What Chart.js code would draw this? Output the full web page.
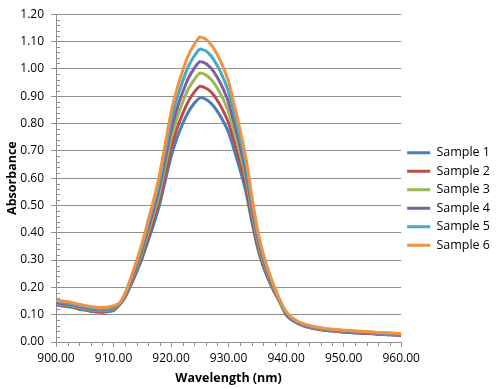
<!DOCTYPE html>
<html>
<head>
<meta charset="utf-8">
<script src="https://cdn.jsdelivr.net/npm/chart.js@4/dist/chart.umd.min.js"></script>
<style>
  body { margin: 0; background: #fff; }
  canvas { display: block; }
</style>
</head>
<body>
<canvas id="spectra" width="500" height="389"></canvas>
<script>
var wavelengths = [900, 901, 902, 903, 904, 905, 906, 907, 908, 909,
    910, 911, 912, 913, 914, 915, 916, 917, 918, 919,
    920, 921, 922, 923, 924, 925, 926, 927, 928, 929,
    930, 931, 932, 933, 934, 935, 936, 937, 938, 939,
    940, 941, 942, 943, 944, 945, 946, 947, 948, 949,
    950, 951, 952, 953, 954, 955, 956, 957, 958, 959, 960];

var sampleNames = ['Sample 1', 'Sample 2', 'Sample 3', 'Sample 4', 'Sample 5', 'Sample 6'];
var sampleColors = ['#4A7EBB', '#BE4B48', '#98B954', '#7D60A0', '#46AAC5', '#F39243'];

var sample1 = [0.136, 0.133, 0.129, 0.126, 0.120, 0.117, 0.112, 0.110, 0.108, 0.111, 0.115,
    0.135, 0.163, 0.207, 0.256, 0.308, 0.370, 0.432, 0.502, 0.591, 0.679, 0.745, 0.798, 0.842, 0.873,
    0.894, 0.889, 0.873, 0.846, 0.811, 0.767, 0.701, 0.630, 0.551, 0.445, 0.348, 0.278, 0.225, 0.181, 0.141,
    0.099, 0.080, 0.068, 0.059, 0.053, 0.048, 0.045, 0.042, 0.040, 0.038, 0.036,
    0.035, 0.033, 0.032, 0.031, 0.030, 0.028, 0.027, 0.026, 0.025, 0.024];
var sample2 = [0.139, 0.135, 0.132, 0.128, 0.123, 0.120, 0.115, 0.112, 0.111, 0.113, 0.118,
    0.136, 0.166, 0.212, 0.263, 0.319, 0.384, 0.449, 0.523, 0.616, 0.709, 0.779, 0.835, 0.881, 0.914,
    0.936, 0.930, 0.914, 0.886, 0.849, 0.802, 0.732, 0.658, 0.575, 0.463, 0.361, 0.287, 0.231, 0.184, 0.143,
    0.101, 0.082, 0.069, 0.060, 0.054, 0.049, 0.046, 0.043, 0.041, 0.039, 0.037,
    0.036, 0.034, 0.033, 0.032, 0.031, 0.029, 0.028, 0.027, 0.026, 0.025];
var sample3 = [0.142, 0.138, 0.135, 0.131, 0.126, 0.122, 0.118, 0.115, 0.114, 0.116, 0.121,
    0.138, 0.169, 0.218, 0.272, 0.331, 0.400, 0.469, 0.547, 0.646, 0.744, 0.818, 0.877, 0.926, 0.960,
    0.984, 0.978, 0.960, 0.931, 0.892, 0.842, 0.769, 0.690, 0.602, 0.484, 0.375, 0.297, 0.238, 0.189, 0.144,
    0.104, 0.084, 0.071, 0.062, 0.056, 0.051, 0.048, 0.045, 0.043, 0.041, 0.039,
    0.038, 0.036, 0.035, 0.034, 0.033, 0.031, 0.030, 0.029, 0.028, 0.027];
var sample4 = [0.145, 0.141, 0.138, 0.134, 0.129, 0.125, 0.121, 0.118, 0.117, 0.119, 0.124,
    0.139, 0.172, 0.223, 0.280, 0.342, 0.414, 0.486, 0.568, 0.671, 0.774, 0.852, 0.913, 0.965, 1.001,
    1.026, 1.020, 1.001, 0.970, 0.929, 0.877, 0.800, 0.718, 0.625, 0.501, 0.388, 0.306, 0.244, 0.192, 0.146,
    0.105, 0.085, 0.072, 0.063, 0.057, 0.052, 0.049, 0.046, 0.044, 0.042, 0.040,
    0.039, 0.037, 0.036, 0.035, 0.034, 0.032, 0.031, 0.030, 0.029, 0.028];
var sample5 = [0.149, 0.146, 0.142, 0.138, 0.133, 0.129, 0.125, 0.122, 0.121, 0.123, 0.128,
    0.140, 0.175, 0.229, 0.289, 0.353, 0.429, 0.505, 0.591, 0.700, 0.808, 0.889, 0.954, 1.008, 1.046,
    1.072, 1.066, 1.046, 1.013, 0.970, 0.916, 0.835, 0.748, 0.651, 0.521, 0.402, 0.316, 0.251, 0.197, 0.148,
    0.108, 0.087, 0.074, 0.065, 0.059, 0.054, 0.051, 0.048, 0.046, 0.044, 0.042,
    0.041, 0.039, 0.038, 0.037, 0.036, 0.034, 0.033, 0.032, 0.031, 0.030];
var sample6 = [0.154, 0.150, 0.148, 0.143, 0.138, 0.134, 0.130, 0.127, 0.126, 0.128, 0.133,
    0.142, 0.178, 0.234, 0.297, 0.364, 0.444, 0.523, 0.613, 0.726, 0.840, 0.924, 0.992, 1.049, 1.088,
    1.116, 1.109, 1.088, 1.054, 1.009, 0.953, 0.868, 0.777, 0.676, 0.540, 0.415, 0.325, 0.257, 0.200, 0.150,
    0.112, 0.090, 0.076, 0.067, 0.061, 0.056, 0.052, 0.049, 0.047, 0.045, 0.043,
    0.042, 0.040, 0.039, 0.038, 0.037, 0.035, 0.034, 0.033, 0.032, 0.031];

var samples = [sample1, sample2, sample3, sample4, sample5, sample6];

// small ticks between the labelled ones, like the spreadsheet axes
var minorTicks = {
    id: 'minorTicks',
    afterDraw: function (chart) {
        var ctx = chart.ctx;
        var xs = chart.scales.x;
        var ys = chart.scales.y;
        var area = chart.chartArea;
        ctx.save();
        ctx.strokeStyle = '#8f8f8f';
        ctx.lineWidth = 1;
        ctx.beginPath();
        for (var v = 2; v < 120; v += 2) {
            if (v % 10 === 0) continue;
            var py = Math.round(ys.getPixelForValue(v / 100)) + 0.5;
            ctx.moveTo(area.left, py);
            ctx.lineTo(area.left + 4, py);
        }
        for (var w = 902; w < 960; w += 2) {
            if (w % 10 === 0) continue;
            var px = Math.round(xs.getPixelForValue(w)) + 0.5;
            ctx.moveTo(px, area.bottom);
            ctx.lineTo(px, area.bottom + 4);
        }
        ctx.stroke();
        ctx.restore();
    }
};

var datasets = samples.map(function (vals, i) {
    return {
        label: sampleNames[i],
        data: vals,
        borderColor: sampleColors[i],
        backgroundColor: sampleColors[i],
        borderWidth: 3,
        pointRadius: 0,
        tension: 0.2,
        fill: false,
        // later samples sit on top, as in the original
        order: samples.length - i
    };
});

var tickFont = { family: "'Open Sans', sans-serif", size: 12 };
var titleFont = { family: "'Open Sans', sans-serif", size: 12.5, weight: 'bold' };

new Chart(document.getElementById('spectra'), {
    type: 'line',
    data: { labels: wavelengths, datasets: datasets },
    options: {
        responsive: false,
        animation: false,
        layout: { padding: { top: 9, left: 0, right: 0, bottom: 0 } },
        plugins: {
            tooltip: { enabled: false },
            legend: {
                position: 'right',
                align: 'center',
                labels: {
                    color: '#000',
                    font: { family: "'Open Sans', sans-serif", size: 12.5 },
                    boxWidth: 23,
                    boxHeight: 3,
                    padding: 6,
                    generateLabels: function (chart) {
                        var items = Chart.defaults.plugins.legend.labels.generateLabels(chart);
                        items.forEach(function (it) { it.lineWidth = 0; });
                        return items;
                    },
                    sort: function (a, b) { return a.datasetIndex - b.datasetIndex; }
                }
            }
        },
        scales: {
            x: {
                type: 'linear',
                min: 900,
                max: 960,
                ticks: {
                    stepSize: 10,
                    color: '#000',
                    font: tickFont,
                    padding: 4,
                    maxRotation: 0,
                    callback: function (v) { return v.toFixed(2); }
                },
                grid: { display: true, drawOnChartArea: false, drawTicks: true, tickLength: 5, color: '#8f8f8f' },
                border: { color: '#8f8f8f' },
                title: { display: true, text: 'Wavelength (nm)', color: '#000', font: titleFont, padding: { top: 1, bottom: 3 } },
                afterFit: function (s) { s.height = 47; }
            },
            y: {
                min: 0,
                max: 1.2,
                ticks: {
                    stepSize: 0.1,
                    color: '#000',
                    font: tickFont,
                    padding: 7,
                    callback: function (v) { return v.toFixed(2); }
                },
                grid: { color: '#8f8f8f', tickLength: 5 },
                border: { color: '#8f8f8f' },
                title: { display: true, text: 'Absorbance', color: '#000', font: titleFont, padding: { top: 5, bottom: 0 } },
                afterFit: function (s) { s.width = 56; }
            }
        }
    },
    plugins: [minorTicks]
});
</script>
</body>
</html>
